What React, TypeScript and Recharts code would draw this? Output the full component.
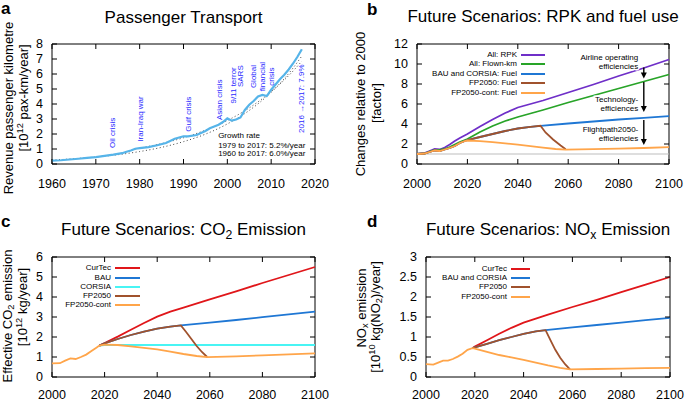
import React from "react";
import {
  LineChart,
  Line,
  XAxis,
  YAxis,
  ReferenceArea,
  ReferenceDot,
  ReferenceLine,
} from "recharts";

const FONT = '"Liberation Sans", Arial, Helvetica, sans-serif';
const W = 685;
const H = 401;
const YW = 40;
const XH = 20;

// ---------- a: passenger transport ----------
const rpkYears = [1960, 1962, 1964, 1966, 1968, 1970, 1972, 1974, 1976, 1977, 1978, 1979, 1980, 1982, 1984, 1986, 1988, 1990, 1991, 1993, 1995, 1996, 1997, 1998, 1999, 2000, 2001, 2002, 2003, 2004, 2005, 2006, 2007, 2008, 2009, 2010, 2011, 2012, 2013, 2014, 2015, 2016, 2017];
const rpkValues = [0.22, 0.25, 0.3, 0.35, 0.41, 0.46, 0.54, 0.62, 0.72, 0.82, 0.9, 1.02, 1.06, 1.13, 1.25, 1.4, 1.68, 1.85, 1.84, 1.93, 2.2, 2.38, 2.5, 2.62, 2.8, 3.04, 2.89, 2.97, 3.1, 3.6, 3.95, 4.2, 4.5, 4.6, 4.53, 4.95, 5.3, 5.65, 5.95, 6.3, 6.7, 7.15, 7.65];
const fit1960Years = [1960, 1965, 1970, 1975, 1980, 1985, 1990, 1995, 2000, 2005, 2010, 2015, 2017];
const fit1960Values = [0.26, 0.35, 0.47, 0.62, 0.83, 1.11, 1.49, 1.99, 2.67, 3.57, 4.78, 6.4, 7.2];
const fit1979Years = [1979, 1985, 1990, 1995, 2000, 2005, 2010, 2015, 2017];
const fit1979Values = [1.0, 1.36, 1.75, 2.26, 2.9, 3.74, 4.82, 6.2, 6.86];
const aXTicks = [1960, 1970, 1980, 1990, 2000, 2010, 2020];
const aYTicks = [0, 1, 2, 3, 4, 5, 6, 7, 8];

const eventTexts = ["Oil crisis", "Iran-Iraq war", "Gulf crisis", "Asian crisis", "9/11 terror", "SARS", "Global", "financial", "crisis", "2016 \u21922017: 7.9%"];
const eventYears = [1973.8, 1980.1, 1991.0, 1998.2, 2001.4, 2002.9, 2006.0, 2007.9, 2010.0, 2016.8];
const eventLevels = [1.07, 1.49, 2.15, 2.93, 4.03, 5.13, 5.83, 5.83, 5.83, 2.07];
const eventAnchors = ["start", "start", "start", "start", "start", "start", "middle", "middle", "middle", "start"];
const growthLines = ["Growth rate", "1979 to 2017: 5.2%/year", "1960 to 2017: 6.0%/year"];
const growthLevels = [1.93, 1.27, 0.69];

// ---------- b: RPK and fuel use ----------
const bYears = [2000, 2003, 2005, 2007, 2009, 2011, 2013, 2015, 2017, 2020, 2025, 2030, 2035, 2040, 2045, 2050, 2060, 2070, 2080, 2090, 2100];
const bRpk = [1.0, 1.1, 1.3, 1.5, 1.45, 1.65, 1.95, 2.3, 2.6, 3.0, 3.75, 4.45, 5.1, 5.65, 6.0, 6.35, 7.15, 7.95, 8.8, 9.6, 10.45];
const bFlown = [1.0, 1.05, 1.25, 1.4, 1.4, 1.5, 1.7, 1.95, 2.2, 2.5, 3.2, 3.8, 4.3, 4.7, 5.05, 5.4, 6.15, 6.85, 7.55, 8.25, 8.95];
const bBauYears = [2000, 2003, 2005, 2007, 2009, 2011, 2013, 2015, 2017, 2019, 2020, 2025, 2030, 2035, 2040, 2045, 2049, 2060, 2070, 2080, 2090, 2100];
const bBau = [1.0, 1.05, 1.2, 1.35, 1.3, 1.45, 1.6, 1.8, 2.1, 2.3, 2.4, 2.7, 3.0, 3.3, 3.55, 3.72, 3.82, 4.05, 4.25, 4.45, 4.62, 4.78];
const bFpYears = [2000, 2003, 2005, 2007, 2009, 2011, 2013, 2015, 2017, 2019, 2020, 2025, 2030, 2035, 2040, 2045, 2049, 2051, 2054, 2057, 2059];
const bFp = [1.0, 1.05, 1.2, 1.35, 1.3, 1.45, 1.6, 1.8, 2.1, 2.3, 2.4, 2.7, 3.0, 3.3, 3.55, 3.72, 3.82, 3.15, 2.45, 1.85, 1.47];
const bContYears = [2000, 2003, 2005, 2007, 2009, 2011, 2013, 2015, 2017, 2019, 2020, 2025, 2030, 2035, 2040, 2045, 2050, 2055, 2059, 2070, 2080, 2090, 2100];
const bCont = [1.0, 1.05, 1.2, 1.35, 1.3, 1.45, 1.6, 1.8, 2.1, 2.3, 2.35, 2.28, 2.18, 2.06, 1.93, 1.78, 1.64, 1.5, 1.43, 1.48, 1.54, 1.6, 1.68];
const bXTicks = [2000, 2020, 2040, 2060, 2080, 2100];
const bYTicks = [0, 2, 4, 6, 8, 10, 12];
const bNoteTexts = ["Airline operating", "efficiencies", "Technology-", "efficiences", "Flightpath2050-", "efficiencies"];
const bNoteLevels = [10.7, 9.83, 6.47, 5.57, 3.5, 2.63];
const bArrowFrom = [9.65, 8.2, 4.4];
const bArrowTo = [8.55, 5.2, 1.9];

// ---------- c: CO2 ----------
const cContYears = [2000, 2003, 2005, 2007, 2009, 2011, 2013, 2015, 2017, 2018, 2020, 2025, 2030, 2035, 2040, 2045, 2050, 2055, 2059, 2070, 2080, 2090, 2100];
const cCont = [0.68, 0.69, 0.82, 0.93, 0.9, 1.0, 1.12, 1.3, 1.48, 1.57, 1.62, 1.6, 1.53, 1.46, 1.38, 1.27, 1.15, 1.05, 0.99, 1.03, 1.08, 1.13, 1.18];
const cCurTecYears = [2018, 2020, 2025, 2030, 2035, 2040, 2045, 2050, 2060, 2070, 2080, 2090, 2100];
const cCurTec = [1.57, 1.7, 2.02, 2.36, 2.7, 3.02, 3.27, 3.47, 3.88, 4.28, 4.7, 5.1, 5.5];
const cBauYears = [2018, 2020, 2025, 2030, 2035, 2040, 2045, 2049, 2060, 2070, 2080, 2090, 2100];
const cBau = [1.57, 1.68, 1.9, 2.1, 2.27, 2.42, 2.52, 2.58, 2.72, 2.85, 2.99, 3.13, 3.27];
const cCorsiaYears = [2018, 2020, 2100];
const cCorsia = [1.57, 1.6, 1.6];
const cFpYears = [2018, 2020, 2025, 2030, 2035, 2040, 2045, 2049, 2051, 2053, 2055, 2057, 2059];
const cFp = [1.57, 1.68, 1.9, 2.1, 2.27, 2.42, 2.52, 2.58, 2.25, 1.9, 1.55, 1.25, 1.0];
const cYTicks = [0, 1, 2, 3, 4, 5, 6];

// ---------- d: NOx ----------
const dContYears = [2000, 2003, 2005, 2007, 2009, 2011, 2013, 2015, 2017, 2019, 2020, 2025, 2030, 2035, 2040, 2045, 2050, 2055, 2059, 2070, 2080, 2090, 2100];
const dCont = [0.32, 0.31, 0.36, 0.41, 0.41, 0.45, 0.51, 0.58, 0.68, 0.72, 0.71, 0.63, 0.55, 0.49, 0.43, 0.36, 0.29, 0.23, 0.19, 0.2, 0.21, 0.22, 0.23];
const dCurTecYears = [2019, 2020, 2025, 2030, 2035, 2040, 2045, 2050, 2060, 2070, 2080, 2090, 2100];
const dCurTec = [0.72, 0.76, 0.92, 1.08, 1.23, 1.36, 1.46, 1.56, 1.75, 1.93, 2.12, 2.31, 2.5];
const dBauYears = [2019, 2020, 2025, 2030, 2035, 2040, 2045, 2049, 2060, 2070, 2080, 2090, 2100];
const dBau = [0.72, 0.74, 0.83, 0.92, 1.0, 1.08, 1.14, 1.17, 1.24, 1.3, 1.36, 1.42, 1.48];
const dFpYears = [2019, 2020, 2025, 2030, 2035, 2040, 2045, 2049, 2051, 2053, 2055, 2057, 2059];
const dFp = [0.72, 0.74, 0.83, 0.92, 1.0, 1.08, 1.14, 1.17, 0.92, 0.68, 0.48, 0.32, 0.19];
const dYTicks = [0, 0.5, 1, 1.5, 2, 2.5, 3];

const C = {
  sky: "#56b4e9",
  purple: "#6f2fc8",
  green: "#28a428",
  blue: "#1f77d4",
  brown: "#a0522d",
  orange: "#ffa54a",
  red: "#e0161a",
  cyan: "#48f4f4",
  note: "#2a2aff",
};

type Box = { left: number; top: number; right: number; bottom: number };
const boxA: Box = { left: 52, top: 44, right: 315, bottom: 164 };
const boxB: Box = { left: 417, top: 44, right: 669, bottom: 164 };
const boxC: Box = { left: 52, top: 257, right: 315, bottom: 377 };
const boxD: Box = { left: 426, top: 257, right: 670, bottom: 377 };

const pts = (years: number[], values: number[]) =>
  years.map((year, i) => ({ year, v: values[i] }));

const marginFor = (b: Box) => ({
  top: b.top,
  right: W - b.right,
  bottom: H - b.bottom - XH,
  left: b.left - YW,
});

const abs: React.CSSProperties = { position: "absolute", left: 0, top: 0 };

function XTick(props: any) {
  const { x, payload, box } = props;
  // bottom panels sit on the page edge, keep their labels just inside it
  const labelY = Math.min(box.bottom + 24, H - 2);
  return (
    <g>
      <line x1={x} x2={x} y1={box.bottom} y2={box.bottom - 5} stroke="#000" />
      <line x1={x} x2={x} y1={box.top} y2={box.top + 5} stroke="#000" />
      <text x={x} y={labelY} textAnchor="middle" fontSize={12.5} fill="#000" fontFamily={FONT}>
        {payload.value}
      </text>
    </g>
  );
}

function YTick(props: any) {
  const { y, payload, box } = props;
  return (
    <g>
      <line x1={box.left} x2={box.left + 5} y1={y} y2={y} stroke="#000" />
      <line x1={box.right} x2={box.right - 5} y1={y} y2={y} stroke="#000" />
      <text x={box.left - 9} y={y} dy="0.35em" textAnchor="end" fontSize={12.5} fill="#000" fontFamily={FONT}>
        {payload.value}
      </text>
    </g>
  );
}

function series(key: string, years: number[], values: number[], color: string, width = 1.8) {
  return (
    <Line
      key={key}
      data={pts(years, values)}
      dataKey="v"
      stroke={color}
      strokeWidth={width}
      dot={false}
      isAnimationActive={false}
    />
  );
}

function Txt({ x, base, size, anchor = "middle", bold = false, children }: any) {
  const shift = anchor === "middle" ? "-50%" : anchor === "end" ? "-100%" : "0";
  return (
    <div
      style={{
        position: "absolute",
        left: x,
        top: base - size * 0.85,
        fontSize: size,
        lineHeight: 1,
        fontWeight: bold ? "bold" : "normal",
        whiteSpace: "nowrap",
        transform: `translateX(${shift})`,
      }}
    >
      {children}
    </div>
  );
}

function VTxt({ cx, cy, size = 13, children }: any) {
  return (
    <div
      style={{
        position: "absolute",
        left: cx,
        top: cy,
        fontSize: size,
        lineHeight: 1,
        whiteSpace: "nowrap",
        transform: "translate(-50%,-50%) rotate(-90deg)",
      }}
    >
      {children}
    </div>
  );
}

const sub: React.CSSProperties = { fontSize: "0.72em", verticalAlign: "-0.3em", lineHeight: 0 };
const sup: React.CSSProperties = { fontSize: "0.72em", verticalAlign: "0.45em", lineHeight: 0 };

function LegendBlock({ names, colors, textRight, lineLeft, lineRight, top, step }: any) {
  return (
    <>
      {names.map((name: string, i: number) => {
        const cy = top + i * step;
        return (
          <React.Fragment key={name}>
            <div
              style={{
                position: "absolute",
                left: textRight - 200,
                width: 200,
                top: cy - 5,
                height: 10,
                lineHeight: "10px",
                fontSize: 8,
                textAlign: "right",
                whiteSpace: "nowrap",
              }}
            >
              {name}
            </div>
            <div
              style={{
                position: "absolute",
                left: lineLeft,
                width: lineRight - lineLeft,
                top: cy - 1,
                height: 2,
                background: colors[i],
              }}
            />
          </React.Fragment>
        );
      })}
    </>
  );
}

function PanelA() {
  return (
    <div style={abs}>
      <LineChart width={W} height={H} margin={marginFor(boxA)}>
        <XAxis dataKey="year" type="number" domain={[1960, 2020]} ticks={aXTicks} interval={0} height={XH} axisLine={false} tickLine={false} tick={(p: any) => <XTick {...p} box={boxA} />} />
        <YAxis type="number" domain={[0, 8]} ticks={aYTicks} interval={0} width={YW} axisLine={false} tickLine={false} tick={(p: any) => <YTick {...p} box={boxA} />} />
        <Line data={pts(fit1960Years, fit1960Values)} dataKey="v" type="monotone" stroke="#444" strokeWidth={1} strokeDasharray="1 2.5" dot={false} isAnimationActive={false} />
        <Line data={pts(fit1979Years, fit1979Values)} dataKey="v" type="monotone" stroke="#444" strokeWidth={1} strokeDasharray="1 2.5" dot={false} isAnimationActive={false} />
        {series("rpk", rpkYears, rpkValues, C.sky, 2.2)}
        {eventTexts.map((t, i) => (
          <ReferenceDot
            key={t}
            x={eventYears[i]}
            y={eventLevels[i]}
            r={0}
            shape={(p: any) => (
              <text transform={`translate(${p.cx},${p.cy}) rotate(-90)`} dy="0.35em" textAnchor={eventAnchors[i]} fontSize={8} fill={C.note} fontFamily={FONT}>
                {t}
              </text>
            )}
          />
        ))}
        {growthLines.map((t, i) => (
          <ReferenceDot
            key={t}
            x={1997.9}
            y={growthLevels[i]}
            r={0}
            shape={(p: any) => (
              <text x={p.cx} y={p.cy} dy="0.35em" textAnchor="start" fontSize={8} fill="#000" fontFamily={FONT}>
                {t}
              </text>
            )}
          />
        ))}
        <ReferenceArea x1={1960} x2={2020} y1={0} y2={8} fill="none" stroke="#000" strokeWidth={1} />
      </LineChart>
    </div>
  );
}

function PanelB() {
  return (
    <div style={abs}>
      <LineChart width={W} height={H} margin={marginFor(boxB)}>
        <XAxis dataKey="year" type="number" domain={[2000, 2100]} ticks={bXTicks} interval={0} height={XH} axisLine={false} tickLine={false} tick={(p: any) => <XTick {...p} box={boxB} />} />
        <YAxis type="number" domain={[0, 12]} ticks={bYTicks} interval={0} width={YW} axisLine={false} tickLine={false} tick={(p: any) => <YTick {...p} box={boxB} />} />
        <ReferenceLine y={1} stroke="#bdbdbd" strokeWidth={1.2} />
        {series("rpk", bYears, bRpk, C.purple)}
        {series("flown", bYears, bFlown, C.green)}
        {series("bau", bBauYears, bBau, C.blue)}
        {series("fp", bFpYears, bFp, C.brown)}
        {series("cont", bContYears, bCont, C.orange)}
        {bNoteTexts.map((t, i) => (
          <ReferenceDot
            key={t + i}
            x={2087.8}
            y={bNoteLevels[i]}
            r={0}
            shape={(p: any) => (
              <text x={p.cx} y={p.cy} dy="0.35em" textAnchor="end" fontSize={8} fill="#000" fontFamily={FONT} stroke="#fff" strokeWidth={3} paintOrder="stroke">
                {t}
              </text>
            )}
          />
        ))}
        {bArrowFrom.map((f, i) => (
          <ReferenceLine
            key={"arrow" + i}
            segment={[{ x: 2090, y: f }, { x: 2090, y: bArrowTo[i] }]}
            shape={(p: any) => (
              <g>
                <line x1={p.x1} y1={p.y1} x2={p.x2} y2={p.y2 - 5} stroke="#000" strokeWidth={1.4} />
                <polygon points={`${p.x2 - 3},${p.y2 - 6} ${p.x2 + 3},${p.y2 - 6} ${p.x2},${p.y2}`} fill="#000" />
              </g>
            )}
          />
        ))}
        <ReferenceArea x1={2000} x2={2100} y1={0} y2={12} fill="none" stroke="#000" strokeWidth={1} />
      </LineChart>
    </div>
  );
}

function PanelC() {
  return (
    <div style={abs}>
      <LineChart width={W} height={H} margin={marginFor(boxC)}>
        <XAxis dataKey="year" type="number" domain={[2000, 2100]} ticks={bXTicks} interval={0} height={XH} axisLine={false} tickLine={false} tick={(p: any) => <XTick {...p} box={boxC} />} />
        <YAxis type="number" domain={[0, 6]} ticks={cYTicks} interval={0} width={YW} axisLine={false} tickLine={false} tick={(p: any) => <YTick {...p} box={boxC} />} />
        {series("corsia", cCorsiaYears, cCorsia, C.cyan, 2)}
        {series("curtec", cCurTecYears, cCurTec, C.red)}
        {series("bau", cBauYears, cBau, C.blue)}
        {series("fp", cFpYears, cFp, C.brown)}
        {series("cont", cContYears, cCont, C.orange)}
        <ReferenceArea x1={2000} x2={2100} y1={0} y2={6} fill="none" stroke="#000" strokeWidth={1} />
      </LineChart>
    </div>
  );
}

function PanelD() {
  return (
    <div style={abs}>
      <LineChart width={W} height={H} margin={marginFor(boxD)}>
        <XAxis dataKey="year" type="number" domain={[2000, 2100]} ticks={bXTicks} interval={0} height={XH} axisLine={false} tickLine={false} tick={(p: any) => <XTick {...p} box={boxD} />} />
        <YAxis type="number" domain={[0, 3]} ticks={dYTicks} interval={0} width={YW} axisLine={false} tickLine={false} tick={(p: any) => <YTick {...p} box={boxD} />} />
        {series("curtec", dCurTecYears, dCurTec, C.red)}
        {series("bau", dBauYears, dBau, C.blue)}
        {series("fp", dFpYears, dFp, C.brown)}
        {series("cont", dContYears, dCont, C.orange)}
        <ReferenceArea x1={2000} x2={2100} y1={0} y2={3} fill="none" stroke="#000" strokeWidth={1} />
      </LineChart>
    </div>
  );
}

const bLegendNames = ["All: RPK", "All: Flown-km", "BAU and CORSIA: Fuel", "FP2050: Fuel", "FP2050-cont: Fuel"];
const cLegendNames = ["CurTec", "BAU", "CORSIA", "FP2050", "FP2050-cont"];
const dLegendNames = ["CurTec", "BAU and CORSIA", "FP2050", "FP2050-cont"];

export default function App() {
  return (
    <div
      style={{
        position: "absolute",
        left: 0,
        top: 0,
        width: W,
        height: H,
        overflow: "hidden",
        background: "#fff",
        fontFamily: FONT,
        color: "#000",
      }}
    >
      <PanelA />
      <PanelB />
      <PanelC />
      <PanelD />

      <Txt x={1} base={14} size={17} anchor="start" bold>a</Txt>
      <Txt x={367} base={15} size={17} anchor="start" bold>b</Txt>
      <Txt x={1} base={227} size={17} anchor="start" bold>c</Txt>
      <Txt x={367} base={227} size={17} anchor="start" bold>d</Txt>

      <Txt x={183.5} base={23} size={17}>Passenger Transport</Txt>
      <Txt x={543} base={22} size={17}>Future Scenarios: RPK and fuel use</Txt>
      <Txt x={183.5} base={235} size={17}>
        Future Scenarios: CO<span style={sub}>2</span> Emission
      </Txt>
      <Txt x={548} base={235} size={17}>
        Future Scenarios: NO<span style={sub}>x</span> Emission
      </Txt>

      <VTxt cx={8} cy={108}>Revenue passenger kilometre</VTxt>
      <VTxt cx={23} cy={98}>
        [10<span style={sup}>12</span> pax-km/year]
      </VTxt>
      <VTxt cx={360} cy={104}>Changes relative to 2000</VTxt>
      <VTxt cx={376} cy={103}>[factor]</VTxt>
      <VTxt cx={7} cy={316}>
        Effective CO<span style={sub}>2</span> emission
      </VTxt>
      <VTxt cx={22} cy={307}>
        [10<span style={sup}>12</span> kg/year]
      </VTxt>
      <VTxt cx={361} cy={308}>
        NO<span style={sub}>x</span> emission
      </VTxt>
      <VTxt cx={375} cy={317}>
        [10<span style={sup}>10</span> kg(NO<span style={sub}>2</span>)/year]
      </VTxt>

      <LegendBlock names={bLegendNames} colors={[C.purple, C.green, C.blue, C.brown, C.orange]} textRight={517} lineLeft={521} lineRight={545} top={55} step={9.4} />
      <LegendBlock names={cLegendNames} colors={[C.red, C.blue, C.cyan, C.brown, C.orange]} textRight={111} lineLeft={115} lineRight={140} top={268.3} step={9.2} />
      <LegendBlock names={dLegendNames} colors={[C.red, C.blue, C.brown, C.orange]} textRight={507} lineLeft={511} lineRight={530} top={269} step={9.2} />
    </div>
  );
}
